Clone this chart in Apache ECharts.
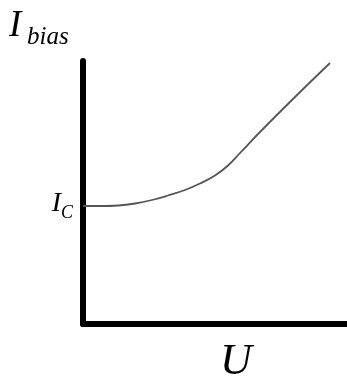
<!DOCTYPE html>
<html>
<head>
<meta charset="utf-8">
<script src="https://cdn.jsdelivr.net/npm/echarts@6/dist/echarts.min.js"></script>
<style>
  html, body { margin: 0; padding: 0; background: #fff; }
  #chart { width: 347px; height: 379px; }
</style>
</head>
<body>
<div id="chart"></div>
<script>
// Bias current versus voltage: flat at I_C, then rising into a straight line
const voltage = [0, 17, 35, 52, 69, 85, 102, 117, 132, 145, 157, 177, 212, 247];
const biasCurrent = [118, 118, 118.5, 120.5, 124, 128.5, 134, 140.5, 148.5, 158.5, 171, 192, 227, 261];
const thresholdTicks = [118];

const serif = 'Liberation Serif';

const chart = echarts.init(document.getElementById('chart'), null, { renderer: 'canvas' });

chart.setOption({
  animation: false,
  backgroundColor: '#ffffff',
  grid: { left: 83, right: 0, top: 61, bottom: 55, containLabel: false },
  xAxis: {
    type: 'value',
    min: 0,
    max: 264,
    axisLine: { show: true, lineStyle: { color: '#000', width: 6, cap: 'round' } },
    axisTick: { show: false },
    axisLabel: { show: false },
    splitLine: { show: false }
  },
  yAxis: {
    type: 'value',
    min: 0,
    max: 263,
    axisLine: { show: true, lineStyle: { color: '#000', width: 6, cap: 'round' } },
    axisTick: { show: false },
    splitLine: { show: false },
    axisLabel: {
      show: true,
      customValues: thresholdTicks,
      margin: 10,
      formatter: () => '{i|I}{c|C}',
      rich: {
        i: { fontFamily: serif, fontStyle: 'italic', fontSize: 28, color: '#000', verticalAlign: 'bottom', padding: [0, 0, 5, 0] },
        c: { fontFamily: serif, fontStyle: 'italic', fontSize: 18, color: '#000', verticalAlign: 'bottom' }
      }
    }
  },
  graphic: [
    {
      type: 'text', left: 9, top: 8,
      style: { text: 'I', fontFamily: serif, fontStyle: 'italic', fontSize: 37, fill: '#000' }
    },
    {
      type: 'text', left: 27, top: 25,
      style: { text: 'bias', fontFamily: serif, fontStyle: 'italic', fontSize: 25, fill: '#000' }
    },
    {
      type: 'text', left: 220, top: 340,
      style: { text: 'U', fontFamily: serif, fontStyle: 'italic', fontSize: 44, fill: '#000' }
    }
  ],
  series: [{
    type: 'line',
    data: voltage.map((u, k) => [u, biasCurrent[k]]),
    smooth: 0.4,
    showSymbol: false,
    lineStyle: { color: '#555', width: 1.8 },
    z: 1
  }]
});
</script>
</body>
</html>
